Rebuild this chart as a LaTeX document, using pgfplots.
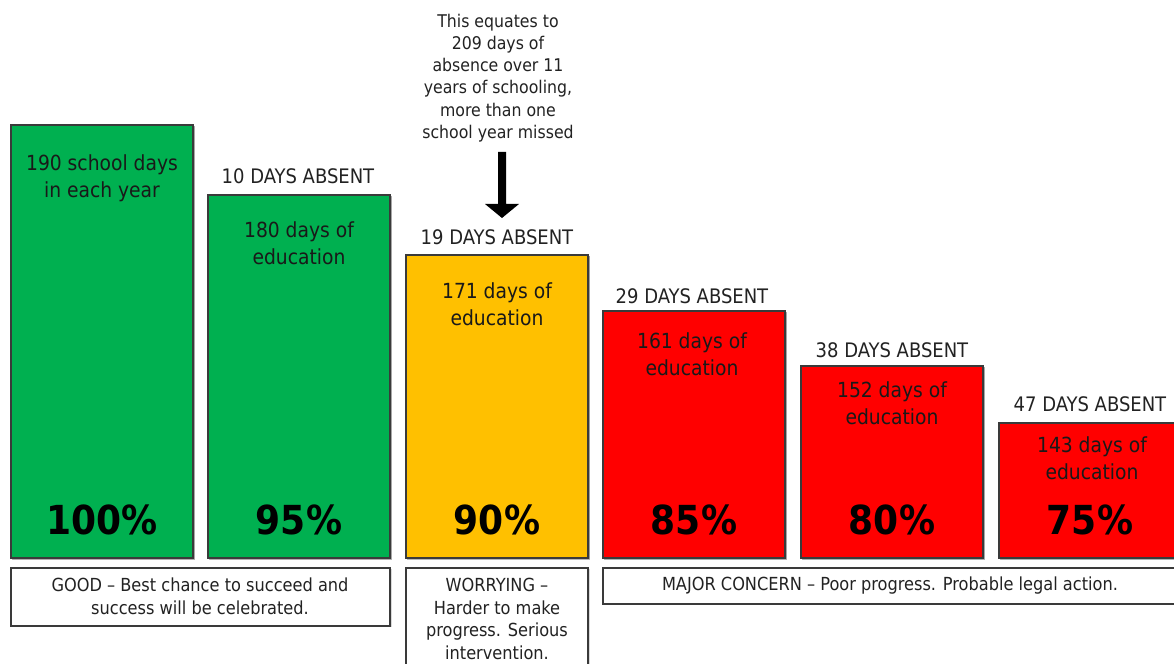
\documentclass[border=0pt]{standalone}
\usepackage{fontspec}
\setmainfont{DejaVu Sans Condensed}
\usepackage{pgfplots}
\pgfplotsset{compat=1.18}
\usetikzlibrary{shadows}
\definecolor{bgreen}{HTML}{00B050}
\definecolor{bamber}{HTML}{FFC000}
\definecolor{bred}{HTML}{FF0000}
\definecolor{edge}{HTML}{3A3A3A}
\definecolor{txt}{HTML}{222222}
\tikzset{
  lbl/.style={font=\fontsize{20bp}{22bp}\selectfont, text=txt, inner sep=0pt},
  inb/.style={font=\fontsize{20.8bp}{27bp}\selectfont, text=black!90, align=center, inner sep=0pt},
  pct/.style={font=\fontsize{40bp}{44bp}\selectfont\bfseries, text=black, inner sep=0pt},
  box/.style={draw=edge, line width=1.2bp, fill=white,
     drop shadow={shadow xshift=1.5bp, shadow yshift=-1.5bp, opacity=0.3}},
  btxt/.style={font=\fontsize{18bp}{22.7bp}\selectfont, text=txt, align=center, inner sep=0pt},
}
\begin{document}
\begin{tikzpicture}
\useasboundingbox (0,0) rectangle (1174bp,664bp);
\begin{axis}[
  at={(0,0)}, anchor=south west,
  scale only axis, width=1174bp, height=664bp,
  xmin=0, xmax=1174, ymin=-106, ymax=558,
  hide axis, clip=true,
  ybar, bar width=182,
  every axis plot/.append style={bar shift=0pt, draw=edge, line width=1.2bp,
     drop shadow={shadow xshift=1.5bp, shadow yshift=-1.5bp, opacity=0.35}},
]
% bar heights measured from the common base line
\addplot[fill=bgreen] coordinates {(102,433) (299,363)};
\addplot[fill=bamber] coordinates {(497,303)};
\addplot[fill=bred] coordinates {(694,247) (892,192) (1090,135)};

% annotation and arrow
\node[font=\fontsize{17.5bp}{22.3bp}\selectfont, text=txt, align=center, inner sep=0pt]
  at (axis cs:498,480) {This equates to\\209 days of\\absence over 11\\years of schooling,\\more than one\\school year missed};
\fill[black] (axis cs:498,406) -- (axis cs:506,406) -- (axis cs:506,354) -- (axis cs:519,354)
  -- (axis cs:502,340) -- (axis cs:485,354) -- (axis cs:498,354) -- cycle;

% labels above bars
\node[lbl] at (axis cs:298,382) {10 DAYS ABSENT};
\node[lbl] at (axis cs:497,321) {19 DAYS ABSENT};
\node[lbl] at (axis cs:692,262) {29 DAYS ABSENT};
\node[lbl] at (axis cs:892,208) {38 DAYS ABSENT};
\node[lbl] at (axis cs:1090,154) {47 DAYS ABSENT};

% text inside bars
\node[inb] at (axis cs:102,379.5) {190 school days\\in each year};
\node[inb] at (axis cs:299,314.5) {180 days of\\education};
\node[inb] at (axis cs:497,254) {171 days of\\education};
\node[inb] at (axis cs:692,204) {161 days of\\education};
\node[inb] at (axis cs:892,154.5) {152 days of\\education};
\node[inb] at (axis cs:1092,100) {143 days of\\education};

\node[pct] at (axis cs:102,38.5) {100\%};
\node[pct] at (axis cs:299,38.5) {95\%};
\node[pct] at (axis cs:497,38.5) {90\%};
\node[pct] at (axis cs:694,38.5) {85\%};
\node[pct] at (axis cs:892,38.5) {80\%};
\node[pct] at (axis cs:1090,38.5) {75\%};

% category boxes
\draw[box] (axis cs:11,-10) rectangle (axis cs:390,-68);
\node[btxt] at (axis cs:200,-38.5) {GOOD – Best chance to succeed and\\success will be celebrated.};
\draw[box] (axis cs:406,-10) rectangle (axis cs:588,-130);
\node[btxt] at (axis cs:497,-61) {WORRYING –\\Harder to make\\progress. Serious\\intervention.};
\draw[box] (axis cs:603,-10) rectangle (axis cs:1190,-46);
\node[btxt] at (axis cs:890,-28) {MAJOR CONCERN – Poor progress. Probable legal action.};
\end{axis}
\end{tikzpicture}
\end{document}
